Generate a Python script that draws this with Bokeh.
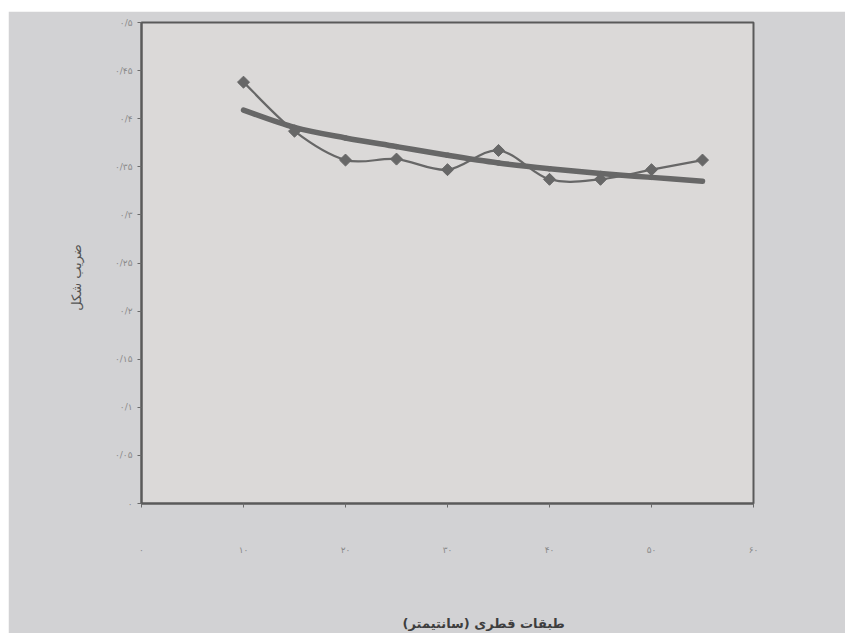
import numpy as np
from bokeh.plotting import figure
from bokeh.models import FixedTicker, Range1d
from bokeh.embed import file_html
from bokeh.resources import INLINE

# diameter classes (cm) and measured form factor
diameter_class = [10, 15, 20, 25, 30, 35, 40, 45, 50, 55]
form_factor = [0.438, 0.387, 0.357, 0.358, 0.347, 0.367, 0.337, 0.337, 0.347, 0.357]
# fitted trend curve at the same classes
trend = [0.409, 0.391, 0.380, 0.371, 0.362, 0.354, 0.348, 0.343, 0.339, 0.335]

y_ticks = [0, 0.05, 0.1, 0.15, 0.2, 0.25, 0.3, 0.35, 0.4, 0.45, 0.5]
y_tick_labels = ["۰", "۰/۰۵", "۰/۱", "۰/۱۵", "۰/۲", "۰/۲۵", "۰/۳", "۰/۳۵", "۰/۴", "۰/۴۵", "۰/۵"]
x_ticks = [0, 10, 20, 30, 40, 50, 60]
x_tick_labels = ["۰", "۱۰", "۲۰", "۳۰", "۴۰", "۵۰", "۶۰"]

x_title = "طبقات قطری (سانتیمتر)"
y_title = "ضریب شکل"

INK = "#676767"
NBSP = "\u00a0"


def smooth_segments(xs, ys):
    """Catmull-Rom style bezier segments through the given points."""
    x = np.asarray(xs, dtype=float)
    y = np.asarray(ys, dtype=float)
    n = len(x)
    xp = np.concatenate([[x[0]], x, [x[-1]]])
    yp = np.concatenate([[y[0]], y, [y[-1]]])
    seg = dict(x0=[], y0=[], x1=[], y1=[], cx0=[], cy0=[], cx1=[], cy1=[])
    for i in range(n - 1):
        j = i + 1  # index into padded arrays
        seg["x0"].append(xp[j]); seg["y0"].append(yp[j])
        seg["x1"].append(xp[j + 1]); seg["y1"].append(yp[j + 1])
        seg["cx0"].append(xp[j] + (xp[j + 1] - xp[j - 1]) / 6)
        seg["cy0"].append(yp[j] + (yp[j + 1] - yp[j - 1]) / 6)
        seg["cx1"].append(xp[j + 1] - (xp[j + 2] - xp[j]) / 6)
        seg["cy1"].append(yp[j + 1] - (yp[j + 2] - yp[j]) / 6)
    return seg


p = figure(
    width=837, height=622,
    output_backend="svg", toolbar_location=None,
    x_range=Range1d(0, 60), y_range=Range1d(0, 0.5),
    min_border_left=133, min_border_right=92,
    min_border_top=11, min_border_bottom=127,
)
p.styles = {"margin-left": "8px", "margin-top": "11px"}

p.background_fill_color = "#dbd9d8"
p.border_fill_color = "#d2d2d4"
p.outline_line_color = "#5a5a5a"
p.outline_line_width = 2
p.grid.visible = False

# fitted trend (thick) and observed values (thin with diamonds)
tr = smooth_segments(diameter_class, trend)
p.bezier(x0=tr["x0"], y0=tr["y0"], x1=tr["x1"], y1=tr["y1"],
         cx0=tr["cx0"], cy0=tr["cy0"], cx1=tr["cx1"], cy1=tr["cy1"],
         line_color=INK, line_width=5.5, line_cap="round")

ob = smooth_segments(diameter_class, form_factor)
p.bezier(x0=ob["x0"], y0=ob["y0"], x1=ob["x1"], y1=ob["y1"],
         cx0=ob["cx0"], cy0=ob["cy0"], cx1=ob["cx1"], cy1=ob["cy1"],
         line_color=INK, line_width=2.2)
p.scatter(diameter_class, form_factor, marker="square", size=8.5,
          angle=np.pi / 4, fill_color=INK, line_color=INK)

# axes
for ax in (p.xaxis[0], p.yaxis[0]):
    ax.axis_line_color = "#5a5a5a"
    ax.axis_line_width = 2
    ax.major_tick_line_color = "#6a6a6a"
    ax.major_tick_line_width = 1
    ax.major_tick_in = 0
    ax.major_tick_out = 4
    ax.minor_tick_line_color = None
    ax.major_label_text_color = "#8a8a8a"
    ax.major_label_text_font = "DejaVu Sans"
    ax.major_label_text_font_size = "9px"

p.xaxis.ticker = FixedTicker(ticks=x_ticks)
p.xaxis.major_label_overrides = {t: s for t, s in zip(x_ticks, x_tick_labels)}
p.xaxis.major_label_standoff = 37
# leading no-break spaces push the title a little to the right of centre
p.xaxis.axis_label = NBSP * 16 + x_title
p.xaxis.axis_label_standoff = 58
p.xaxis.axis_label_text_font = "DejaVu Sans"
p.xaxis.axis_label_text_font_style = "bold"
p.xaxis.axis_label_text_font_size = "13px"
p.xaxis.axis_label_text_color = "#3e3e3e"

p.yaxis.ticker = FixedTicker(ticks=y_ticks)
p.yaxis.major_label_overrides = {t: s for t, s in zip(y_ticks, y_tick_labels)}
p.yaxis.major_label_standoff = 5
p.yaxis.axis_label = y_title + NBSP * 7
p.yaxis.axis_label_standoff = 28
p.yaxis.axis_label_text_font = "DejaVu Sans"
p.yaxis.axis_label_text_font_style = "normal"
p.yaxis.axis_label_text_font_size = "13px"
p.yaxis.axis_label_text_color = "#555555"

open("out.html", "w").write(file_html(p, INLINE))
